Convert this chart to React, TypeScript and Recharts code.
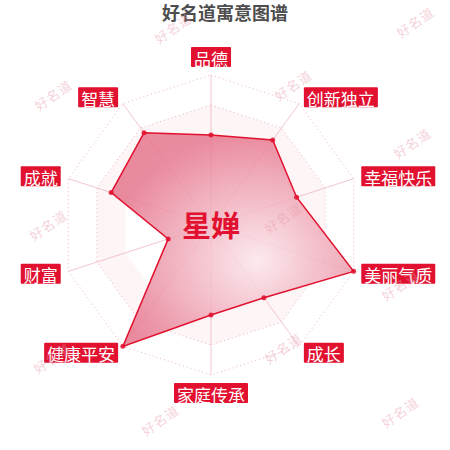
import React from 'react';
import { RadarChart, Radar, PolarGrid, PolarAngleAxis, PolarRadiusAxis } from 'recharts';

const AXES = ['品德', '创新独立', '幸福快乐', '美丽气质', '成长', '家庭传承', '健康平安', '财富', '成就', '智慧'];
const SCORES = [60, 70, 60, 100, 60, 60, 100, 30, 70, 76];
const BAND_MID = [70, 70, 70, 70, 70, 70, 70, 70, 70, 70]; // shaded split ring (60..80)
const TITLE = '好名道寓意图谱';
const NAME = '星婵';
const WATERMARK = '好名道';

const RED = '#e1112f';
const WATERMARKS: [number, number][] = [
  [173, 28], [415, 22], [53, 95], [293, 85], [412, 143],
  [48, 225], [283, 218], [400, 285], [52, 358], [283, 348],
  [160, 420], [400, 412],
];

const data = AXES.map((name, i) => ({ name, score: SCORES[i], band: BAND_MID[i] }));

// label box in red with white text, placed outside the axis end
const AxisLabel = (props: any) => {
  const { x, y, textAnchor, payload } = props;
  const text = String(payload.value);
  const fs = 17;
  const w = text.length * fs + 6;
  const h = 20;
  let left = x - w / 2;
  if (textAnchor === 'start') left = x;
  if (textAnchor === 'end') left = x - w;
  const s = Math.sin((payload.coordinate * Math.PI) / 180);
  let top = y - h / 2;
  if (s > 0.99) top = y - h;
  if (s < -0.99) top = y;
  return (
    <g>
      <rect x={left} y={top} width={w} height={h} rx={1} fill={RED} />
      <text
        x={left + w / 2}
        y={top + h / 2 + 1}
        textAnchor="middle"
        dominantBaseline="central"
        fill="#fff"
        fontSize={fs}
        fontFamily="'Noto Sans CJK SC', sans-serif"
      >
        {text}
      </text>
    </g>
  );
};

export default function App() {
  return (
    <div style={{ position: 'absolute', left: 0, top: 0, width: 450, height: 450, background: '#fff' }}>
      <RadarChart width={450} height={450} data={data} cx={211} cy={225} outerRadius={150}>
        <defs>
          <radialGradient id="areaFill" cx="60%" cy="60%" r="60%">
            <stop offset="0%" stopColor="#fbe6eb" />
            <stop offset="100%" stopColor="#e6778e" />
          </radialGradient>
        </defs>
        <PolarGrid gridType="polygon" polarRadius={[]} radialLines stroke="#f1c8d1" strokeWidth={1} />
        <PolarGrid
          gridType="polygon"
          polarRadius={[120, 150]}
          radialLines={false}
          stroke="#eeb3c0"
          strokeDasharray="1 3"
          strokeWidth={1}
        />
        <PolarRadiusAxis domain={[0, 100]} tick={false} axisLine={false} />
        <PolarAngleAxis dataKey="name" tick={<AxisLabel />} tickLine={false} axisLine={false} />
        <Radar
          dataKey="band"
          fill="none"
          stroke="#f2a9b8"
          strokeOpacity={0.12}
          strokeWidth={28.5}
          strokeLinejoin="miter"
          dot={false}
          isAnimationActive={false}
        />
        <Radar
          dataKey="score"
          stroke={RED}
          strokeWidth={1.5}
          fill="url(#areaFill)"
          fillOpacity={0.85}
          dot={{ r: 2.5, fill: RED, stroke: RED, strokeWidth: 0 }}
          isAnimationActive={false}
        />
      </RadarChart>
      <svg
        width={450}
        height={450}
        style={{ position: 'absolute', left: 0, top: 0, pointerEvents: 'none' }}
      >
        <text
          x={225}
          y={12}
          textAnchor="middle"
          dominantBaseline="central"
          fontSize={18}
          fontWeight="bold"
          fill="#4d4d4d"
          fontFamily="'Noto Sans CJK SC', sans-serif"
        >
          {TITLE}
        </text>
        {WATERMARKS.map(([wx, wy], i) => (
          <text
            key={i}
            x={wx}
            y={wy}
            textAnchor="middle"
            dominantBaseline="central"
            fontSize={13}
            fill="#e79aab"
            fillOpacity={0.45}
            letterSpacing={1}
            transform={`rotate(-35 ${wx} ${wy})`}
            fontFamily="'Noto Sans CJK SC', sans-serif"
          >
            {WATERMARK}
          </text>
        ))}
        <text
          x={211}
          y={224}
          textAnchor="middle"
          dominantBaseline="central"
          fontSize={29}
          fontWeight="bold"
          fill={RED}
          fontFamily="'Noto Sans CJK SC', sans-serif"
        >
          {NAME}
        </text>
      </svg>
    </div>
  );
}
